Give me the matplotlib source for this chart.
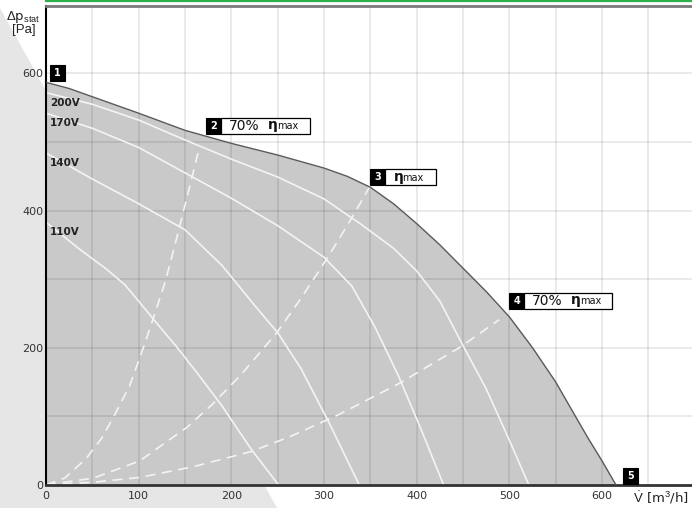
import matplotlib
matplotlib.use("Agg")
import matplotlib.pyplot as plt
from matplotlib.patches import Polygon, Rectangle
from matplotlib.lines import Line2D
from matplotlib.transforms import IdentityTransform

plt.rcParams['mathtext.fontset'] = 'custom'
plt.rcParams['mathtext.rm'] = 'Liberation Sans'
plt.rcParams['mathtext.it'] = 'Liberation Sans:italic'
plt.rcParams['mathtext.bf'] = 'Liberation Sans:bold'

# max operating curve (upper limit of grey area)
max_x = [0, 25, 50, 100, 150, 200, 250, 300, 325, 350, 375, 400, 425, 450, 475,
         500, 525, 550, 570, 585, 600, 615]
max_y = [587, 578, 566, 542, 517, 498, 481, 462, 450, 434, 410, 381, 350, 316, 282,
         245, 200, 150, 103, 68, 35, 0]

# fan curves per supply voltage
volt_labels = ['200V', '170V', '140V', '110V']
v200_x = [0, 50, 100, 150, 200, 250, 300, 340, 375, 400, 425, 450, 475, 500, 521]
v200_y = [572, 555, 532, 503, 475, 449, 417, 380, 345, 312, 268, 203, 140, 65, 0]
v170_x = [0, 50, 100, 150, 200, 250, 300, 330, 355, 380, 405, 429]
v170_y = [542, 520, 492, 455, 418, 378, 332, 290, 230, 160, 80, 0]
v140_x = [0, 50, 100, 150, 190, 225, 250, 275, 305, 338]
v140_y = [484, 446, 410, 372, 320, 262, 222, 170, 92, 0]
v110_x = [0, 35, 65, 85, 100, 120, 140, 165, 190, 222, 251]
v110_y = [383, 345, 315, 292, 268, 235, 203, 160, 115, 51, 0]

# system curves (70% eta max, eta max, 70% eta max)
sys1_x = [0, 20, 43, 60, 74, 90, 105, 117, 129, 141, 155, 165]
sys1_y = [0, 10, 38, 68, 102, 144, 200, 248, 298, 360, 435, 490]
sys2_x = [0, 51, 101, 152, 179, 210, 249, 274, 296, 310, 328, 349]
sys2_y = [0, 10, 35, 84, 117, 160, 222, 270, 315, 345, 385, 434]
sys3_x = [0, 51, 101, 160, 222, 264, 315, 381, 447, 489]
sys3_y = [0, 4, 11, 27, 49, 71, 102, 148, 201, 241]

x_ticks = [0, 100, 200, 300, 400, 500, 600]
y_ticks = [0, 200, 400, 600]

fig = plt.figure(figsize=(6.92, 5.08), dpi=100)
fig.patch.set_facecolor('white')

# light grey diagonal backdrop
fig.add_artist(Polygon([(0, 1 - 8 / 508), (277 / 692, 0), (0, 0)], closed=True,
                       transform=fig.transFigure, facecolor='#e6e6e6',
                       edgecolor='none', zorder=-5))
fig.add_artist(Line2D([46 / 692, 1], [1 - 1 / 508, 1 - 1 / 508], transform=fig.transFigure,
                      color='#2bb04a', lw=1.6))

ax = fig.add_axes([46 / 692, 23 / 508, 646 / 692, 479.5 / 508])
ax.set_facecolor('white')
ax.set_xlim(0, 697)
ax.set_ylim(0, 699)

ax.fill_between(max_x, max_y, 0, color='#c9c9c9', lw=0, zorder=1)

for gx in range(50, 697, 50):
    ax.axvline(gx, color='black', alpha=0.09, lw=1.3, zorder=1.5)
for gy in range(100, 699, 100):
    ax.axhline(gy, color='black', alpha=0.09, lw=1.3, zorder=1.5)

ax.plot(max_x, max_y, color='#5a5a5a', lw=1.0, zorder=3)

volt_curves = [(v200_x, v200_y), (v170_x, v170_y), (v140_x, v140_y), (v110_x, v110_y)]
for (cx, cy), lab in zip(volt_curves, volt_labels):
    ax.plot(cx, cy, color='#f4f4f4', lw=1.2, zorder=2)
    ax.annotate(lab, (0, cy[0]), xytext=(4, -10), textcoords='offset pixels',
                ha='left', va='center', fontsize=7.5, fontweight='bold',
                color='#222222', zorder=4)

for cx, cy in [(sys1_x, sys1_y), (sys2_x, sys2_y), (sys3_x, sys3_y)]:
    ax.plot(cx, cy, color='#f4f4f4', lw=1.2, dashes=(6, 4), zorder=2)

ax.set_xticks(x_ticks)
ax.set_yticks(y_ticks)
ax.tick_params(length=0, labelsize=8, labelcolor='#333333', pad=4)
ax.tick_params(axis='y', pad=2)
ax.spines['right'].set_visible(False)
ax.spines['left'].set_color('black')
ax.spines['left'].set_linewidth(1.5)
ax.spines['bottom'].set_color('#333333')
ax.spines['bottom'].set_linewidth(2)
ax.spines['top'].set_color('#7a7a7a')
ax.spines['top'].set_linewidth(2)


def tag(x, y, num, dx, dy, label=None, width=0):
    # numbered black box (and optional label box) at a pixel offset from a data point
    px, py = ax.transData.transform((x, y))
    left, bottom = px + dx, py - dy
    fig.add_artist(Rectangle((left, bottom), 15, 16, transform=IdentityTransform(),
                             facecolor='black', edgecolor='black', lw=0.8, zorder=10))
    fig.text(left + 7.5, bottom + 8, num, transform=IdentityTransform(), ha='center',
             va='center', color='white', fontsize=7, fontweight='bold', zorder=11)
    if label is None:
        return
    fig.add_artist(Rectangle((left + 15, bottom), width, 16, transform=IdentityTransform(),
                             facecolor='white', edgecolor='black', lw=0.9, zorder=10))
    tx = left + 15 + 8
    if label:
        fig.text(tx, bottom + 7.5, label, transform=IdentityTransform(), ha='left',
                 va='center', fontsize=10, color='#111111', zorder=11)
        tx += 39
    fig.text(tx, bottom + 8.5, 'η', transform=IdentityTransform(), ha='left',
             va='center', fontsize=10, fontweight='bold', color='#111111', zorder=11)
    fig.text(tx + 9, bottom + 7.5, 'max', transform=IdentityTransform(), ha='left',
             va='center', fontsize=7, color='#111111', zorder=11)


tag(max_x[0], max_y[0], '1', 4, -1)
tag(sys1_x[-1], sys1_y[-1], '2', 7, -15, '70%', 89)
tag(sys2_x[-1], sys2_y[-1], '3', 1, -2, '', 51)
tag(sys3_x[-1], sys3_y[-1], '4', 10, -11, '70%', 88)
tag(max_x[-1], max_y[-1], '5', 7, -1)

fig.text(23 / 692, 1 - 17 / 508, r'$\Delta$p$_{\mathrm{stat}}$', ha='center', va='center',
         fontsize=9.5, color='#222222')
fig.text(24 / 692, 1 - 30 / 508, '[Pa]', ha='center', va='center',
         family='Liberation Sans', fontsize=9.5, color='#222222')
fig.text(661 / 692, 1 - 498 / 508, r'$\dot{\mathrm{V}}$ [m$^3$/h]', ha='center', va='center',
         fontsize=9.5, color='#222222')

fig.savefig('out.png', dpi=100)
